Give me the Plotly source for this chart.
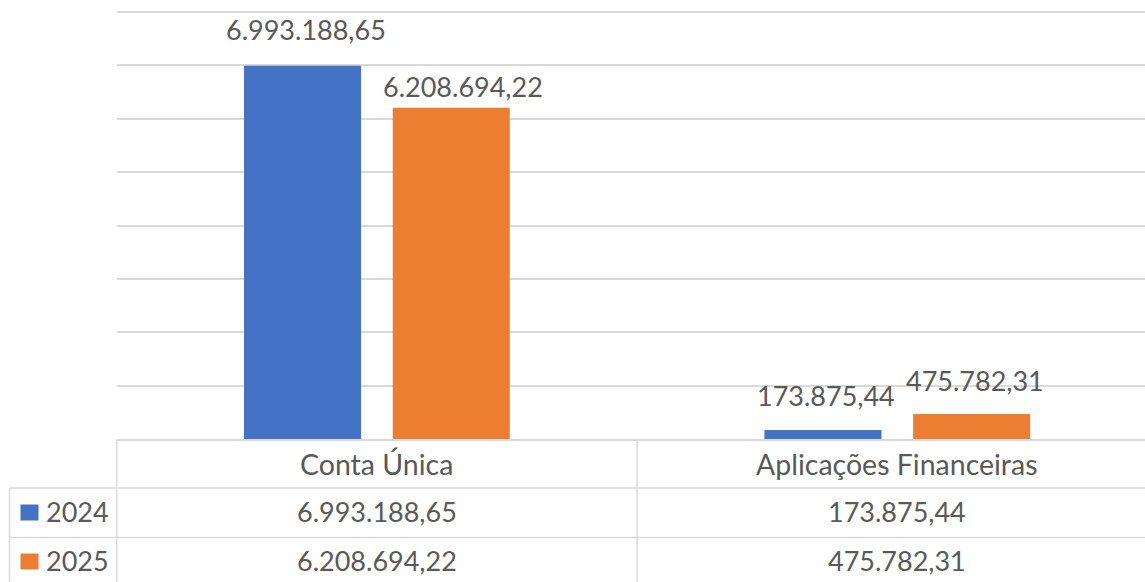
import plotly.graph_objects as go

# ---- data ----
categories = ["Conta Única", "Aplicações Financeiras"]
series_names = ["2024", "2025"]
values_2024 = [6993188.65, 173875.44]
values_2025 = [6208694.22, 475782.31]
series_values = [values_2024, values_2025]
colors = ["#4472C4", "#ED7D31"]
y_max = 8e6
y_step = 1e6

# ---- layout constants (pixels) ----
W, H = 1145, 582
PLOT_LEFT = 116.7
PLOT_TOP = 12.0          # pixel row of the y_max gridline
DOMAIN_TOP = 4.0         # top of the plotting area
PLOT_BOTTOM = 439.3
CAT_PX = 520.4
BARGAP = 0.4285
BARGROUPGAP = 0.213
ROW1_BOTTOM = 488.0
ROW2_BOTTOM = 537.5
TABLE_LEFT = 9.5
GRID = "#d9d9d9"
TXT = "#595959"
FONT = "Lato"
FS = 27
FS_HEAD = 28.5

# label offsets (style): extra x shift, distance of label center above bar top
label_style = [
    [(3, 36), (3, 35)],
    [(12, 21), (3, 33)],
]


def br(v):
    s = f"{v:,.2f}"
    return s.replace(",", "X").replace(".", ",").replace("X", ".")


def px_x(x):
    return x / W


def px_y(y):
    return 1 - y / H


span = (W - PLOT_LEFT) / CAT_PX
y_top = y_max * (PLOT_BOTTOM - DOMAIN_TOP) / (PLOT_BOTTOM - PLOT_TOP)

fig = go.Figure()
for name, vals, col in zip(series_names, series_values, colors):
    fig.add_trace(go.Bar(x=categories, y=vals, name=name, marker_color=col,
                         marker_line_width=0, hoverinfo="skip"))

annotations = []
slot_px = CAT_PX * (1 - BARGAP) / 2
for i, vals in enumerate(series_values):
    for j, v in enumerate(vals):
        dx, dy = label_style[i][j]
        annotations.append(dict(
            x=categories[j], y=v, xref="x", yref="y",
            xshift=(i - 0.5) * slot_px + dx, yshift=dy,
            text=br(v), showarrow=False, xanchor="center", yanchor="middle",
            font=dict(family=FONT, size=FS, color=TXT)))

# table header (categories)
for j, c in enumerate(categories):
    annotations.append(dict(x=c, xref="x", y=px_y(464), yref="paper",
                            text=c, showarrow=False, yanchor="middle",
                            font=dict(family=FONT, size=FS_HEAD, color=TXT)))
# table rows
row_centers = [511, 560]
for i, vals in enumerate(series_values):
    for j, v in enumerate(vals):
        annotations.append(dict(x=categories[j], xref="x", y=px_y(row_centers[i]),
                                yref="paper", text=br(v), showarrow=False,
                                yanchor="middle",
                                font=dict(family=FONT, size=FS, color=TXT)))
    annotations.append(dict(x=px_x(44), xref="paper", y=px_y(row_centers[i]),
                            yref="paper", text=series_names[i], showarrow=False,
                            xanchor="left", yanchor="middle",
                            font=dict(family=FONT, size=FS, color=TXT)))

shapes = []
line = dict(color=GRID, width=1.5)
# vertical lines
shapes.append(dict(type="line", xref="paper", yref="paper", x0=px_x(PLOT_LEFT), x1=px_x(PLOT_LEFT),
                   y0=px_y(PLOT_BOTTOM), y1=0, line=line))
shapes.append(dict(type="line", xref="x", yref="paper", x0=0.5, x1=0.5,
                   y0=px_y(PLOT_BOTTOM), y1=0, line=line))
shapes.append(dict(type="line", xref="paper", yref="paper", x0=px_x(TABLE_LEFT), x1=px_x(TABLE_LEFT),
                   y0=px_y(ROW1_BOTTOM), y1=0, line=line))
# horizontal lines
for yy in (ROW1_BOTTOM, ROW2_BOTTOM):
    shapes.append(dict(type="line", xref="paper", yref="paper", x0=px_x(TABLE_LEFT), x1=1,
                       y0=px_y(yy), y1=px_y(yy), line=line))
# legend keys
for i, col in enumerate(colors):
    cy = row_centers[i] + 1.5
    shapes.append(dict(type="rect", xref="paper", yref="paper",
                       x0=px_x(20.5), x1=px_x(38.5), y0=px_y(cy + 8), y1=px_y(cy - 8),
                       fillcolor=col, line=dict(width=0)))

fig.update_layout(
    width=W, height=H,
    margin=dict(l=0, r=0, t=0, b=0),
    paper_bgcolor="white", plot_bgcolor="white",
    barmode="group", bargap=BARGAP, bargroupgap=BARGROUPGAP,
    showlegend=False,
    annotations=annotations, shapes=shapes,
    xaxis=dict(domain=[px_x(PLOT_LEFT), 1], range=[-0.5, -0.5 + span],
               showticklabels=False, showgrid=False, zeroline=False,
               showline=True, linecolor=GRID, linewidth=1.5, ticks=""),
    yaxis=dict(domain=[px_y(PLOT_BOTTOM), px_y(DOMAIN_TOP)], range=[0, y_top],
               tick0=0, dtick=y_step,
               showticklabels=False, showgrid=True, gridcolor=GRID, gridwidth=1.5,
               zeroline=False, showline=False, ticks=""),
    font=dict(family=FONT, color=TXT),
)

fig.write_html("out.html", config={"displayModeBar": False},
               post_script="document.body.style.margin='0';document.body.style.overflow='hidden';")
